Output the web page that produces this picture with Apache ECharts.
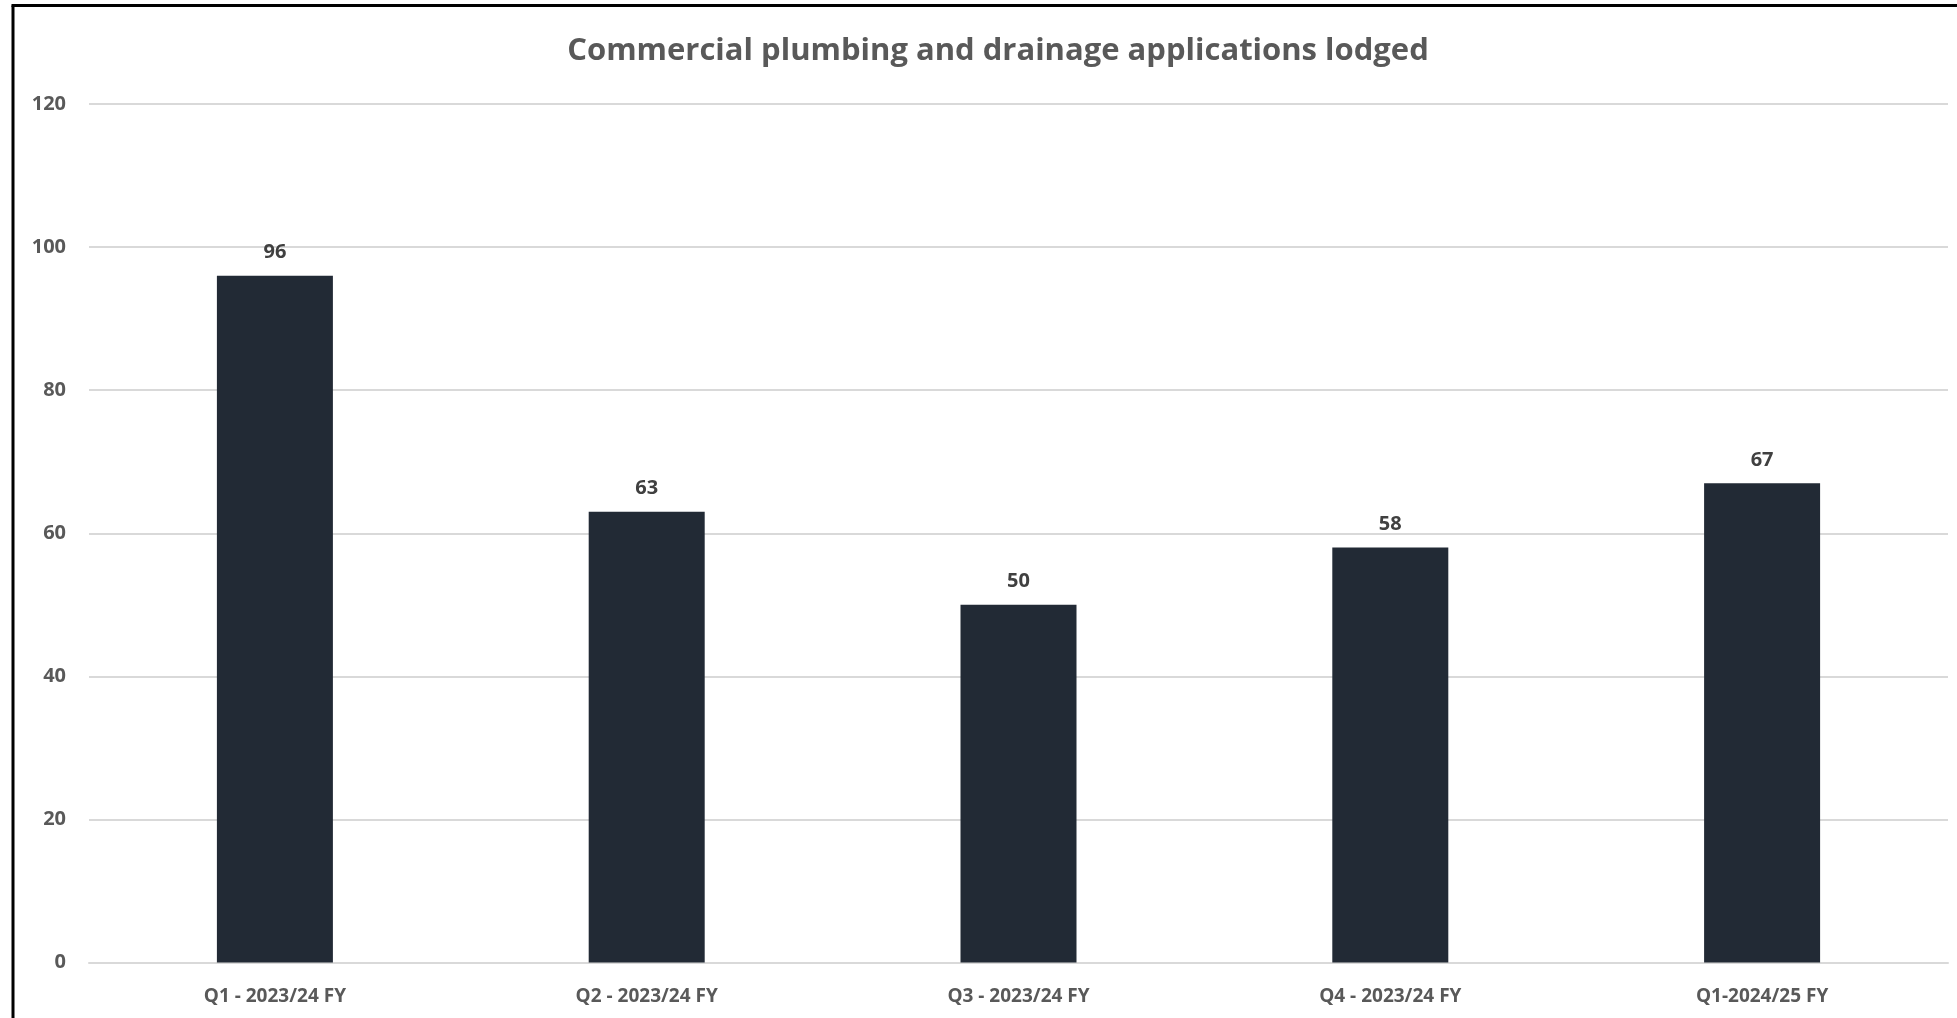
<!DOCTYPE html>
<html>
<head>
<meta charset="utf-8">
<script src="https://cdn.jsdelivr.net/npm/echarts@6/dist/echarts.min.js"></script>
<style>
  html, body { margin: 0; padding: 0; background: #ffffff; }
  #chart { width: 1957px; height: 1018px; }
</style>
</head>
<body>
<div id="chart"></div>
<script>
const titleText = 'Commercial plumbing and drainage applications lodged';
const categories = ['Q1 - 2023/24 FY', 'Q2 - 2023/24 FY', 'Q3 - 2023/24 FY', 'Q4 - 2023/24 FY', 'Q1-2024/25 FY'];
const applications = [96, 63, 50, 58, 67];
const yMin = 0, yMax = 120, yStep = 20;

const chart = echarts.init(document.getElementById('chart'));
chart.setOption({
  backgroundColor: '#ffffff',
  animation: false,
  title: {
    text: titleText,
    left: 993, top: 31,
    textAlign: 'center',
    textStyle: { fontFamily: 'Open Sans', fontWeight: 'bold', fontSize: 31, color: '#595959' }
  },
  graphic: [
    { type: 'line', shape: { x1: 13, y1: 5.5, x2: 13, y2: 1018 }, style: { stroke: '#000000', lineWidth: 3 } },
    { type: 'line', shape: { x1: 11.5, y1: 5.5, x2: 1957, y2: 5.5 }, style: { stroke: '#000000', lineWidth: 3 } }
  ],
  grid: { left: 89, right: 9, top: 104, bottom: 55.5, containLabel: false },
  xAxis: {
    type: 'category',
    data: categories,
    axisLine: { show: true, lineStyle: { color: '#d9d9d9', width: 2 } },
    axisTick: { show: false },
    axisLabel: { margin: 25, fontFamily: 'Open Sans', fontWeight: 'bold', fontSize: 19, color: '#595959' }
  },
  yAxis: {
    type: 'value',
    min: yMin, max: yMax, interval: yStep,
    axisLine: { show: false },
    axisTick: { show: false },
    splitLine: { lineStyle: { color: '#d9d9d9', width: 2 } },
    axisLabel: { margin: 23, fontFamily: 'Open Sans', fontWeight: 'bold', fontSize: 20, color: '#595959' }
  },
  series: [{
    type: 'bar',
    data: applications,
    barWidth: '31.2%',
    itemStyle: { color: '#222a35' },
    label: {
      show: true, position: 'top', distance: 13,
      fontFamily: 'Open Sans', fontWeight: 'bold', fontSize: 20, color: '#404040'
    }
  }]
});
</script>
</body>
</html>
